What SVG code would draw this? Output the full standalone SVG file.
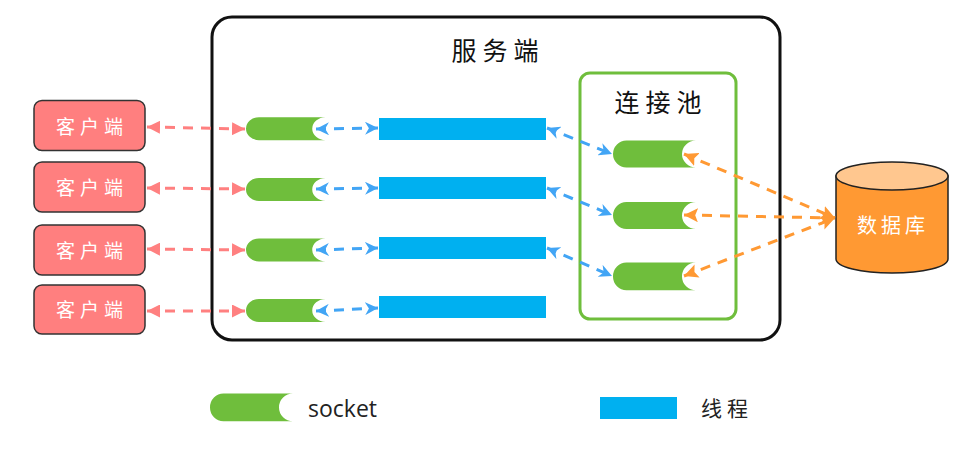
<svg xmlns="http://www.w3.org/2000/svg" width="971" height="471" viewBox="0 0 971 471">
<style>
text{font-family:"Noto Sans CJK SC","Noto Sans",sans-serif;text-anchor:middle}
.client{fill:#ff7f7f;stroke:#333;stroke-width:1.5}
.cl{font-size:19px;fill:#fff;letter-spacing:5px}
.sock{fill:#6fbe3c}
.thread{fill:#00b0f0}
.title{font-size:25px;fill:#111;letter-spacing:6px}
.red{stroke:#ff8080}.blue{stroke:#42a5f5}.orange{stroke:#ff9933}
.c{fill:none;stroke-width:3;stroke-dasharray:10 8}
</style>
<defs>
<marker id="r" viewBox="0 0 10 10" refX="10" refY="5" markerWidth="13" markerHeight="13" markerUnits="userSpaceOnUse" orient="auto-start-reverse"><path d="M0 0L10 5L0 10z" fill="#ff8080"/></marker>
<marker id="b" viewBox="0 0 10 10" refX="10" refY="5" markerWidth="13" markerHeight="13" markerUnits="userSpaceOnUse" orient="auto-start-reverse"><path d="M0 0L10 5L0 10L3 5z" fill="#42a5f5"/></marker>
<marker id="o" viewBox="0 0 10 10" refX="10" refY="5" markerWidth="14" markerHeight="14" markerUnits="userSpaceOnUse" orient="auto-start-reverse"><path d="M0 0L10 5L0 10L2 5z" fill="#ff9933"/></marker>
<path id="p" d="M13.500 0H83A14 13.500 0 0 0 83 27H13.500A13.500 13.500 0 0 1 13.500 0Z"/>
</defs>
<rect width="971" height="471" fill="#fff"/>
<g id="server"><rect x="212" y="17" width="568" height="323" rx="20" fill="#fff" stroke="#111" stroke-width="3"/><text class="title" x="498" y="60">服务端</text></g>
<g id="pool"><rect x="580" y="73" width="156" height="246" rx="10" fill="#fff" stroke="#6fbe3c" stroke-width="3"/><text class="title" x="661" y="112">连接池</text></g>
<g id="client1"><rect class="client" x="34" y="100.500" width="111" height="50" rx="8"/><text class="cl" x="92" y="134">客户端</text></g>
<g id="client2"><rect class="client" x="34" y="162" width="111" height="50" rx="8"/><text class="cl" x="92" y="195">客户端</text></g>
<g id="client3"><rect class="client" x="34" y="225" width="111" height="50" rx="8"/><text class="cl" x="92" y="258">客户端</text></g>
<g id="client4"><rect class="client" x="34" y="285" width="111" height="49" rx="8"/><text class="cl" x="92" y="317">客户端</text></g>
<g id="socket1"><use href="#p" class="sock" transform="translate(246 117.200) scale(.96 .85)"/></g>
<g id="socket2"><use href="#p" class="sock" transform="translate(246 178) scale(.96 .85)"/></g>
<g id="socket3"><use href="#p" class="sock" transform="translate(246 238.500) scale(.96 .85)"/></g>
<g id="socket4"><use href="#p" class="sock" transform="translate(246 299) scale(.96 .85)"/></g>
<g id="thread1"><rect class="thread" x="379" y="118" width="167" height="22"/></g>
<g id="thread2"><rect class="thread" x="379" y="177" width="167" height="22"/></g>
<g id="thread3"><rect class="thread" x="379" y="237" width="167" height="22"/></g>
<g id="thread4"><rect class="thread" x="379" y="296" width="167" height="22"/></g>
<g id="psocket1"><use href="#p" class="sock" transform="translate(613 140.500)"/></g>
<g id="psocket2"><use href="#p" class="sock" transform="translate(613 202)"/></g>
<g id="psocket3"><use href="#p" class="sock" transform="translate(613 262.500) scale(1 1.03)"/></g>
<g id="database"><path d="M836 176V259C836 267 861 273 892 273S948 267 948 259V176Z" fill="#ff9933" stroke="#222" stroke-width="1.500"/><ellipse cx="892" cy="176" rx="56" ry="14" fill="#ffc78f" stroke="#222" stroke-width="1.500"/><text x="893" y="233" font-size="20" fill="#fff" letter-spacing="4">数据库</text></g>
<g id="connectors">
<path class="c red" d="M147 127L245 129" marker-start="url(#r)" marker-end="url(#r)"/>
<path class="c red" d="M147 188L245 189" marker-start="url(#r)" marker-end="url(#r)"/>
<path class="c red" d="M147 249L245 250" marker-start="url(#r)" marker-end="url(#r)"/>
<path class="c red" d="M147 311L245 311" marker-start="url(#r)" marker-end="url(#r)"/>
<path class="c blue" d="M316 129L378 128" marker-start="url(#b)" marker-end="url(#b)"/>
<path class="c blue" d="M316 189L378 188" marker-start="url(#b)" marker-end="url(#b)"/>
<path class="c blue" d="M316 250L378 248" marker-start="url(#b)" marker-end="url(#b)"/>
<path class="c blue" d="M316 311L378 308" marker-start="url(#b)" marker-end="url(#b)"/>
<path class="c blue" d="M547 128L612 154" marker-start="url(#b)" marker-end="url(#b)"/>
<path class="c blue" d="M547 188L612 215" marker-start="url(#b)" marker-end="url(#b)"/>
<path class="c blue" d="M547 248L612 276" marker-start="url(#b)" marker-end="url(#b)"/>
<path class="c orange" d="M684 154L835 218" marker-start="url(#o)" marker-end="url(#o)"/>
<path class="c orange" d="M684 215L835 218" marker-start="url(#o)" marker-end="url(#o)"/>
<path class="c orange" d="M684 276L835 218" marker-start="url(#o)" marker-end="url(#o)"/>
</g>
<g id="legend-socket"><use href="#p" class="sock" transform="translate(210 393.500) scale(1 1.03)"/><text x="342.500" y="417" font-size="23" fill="#222" style="font-family:'Open Sans',sans-serif">socket</text></g>
<g id="legend-thread"><rect class="thread" x="600" y="397" width="77" height="22"/><text x="727" y="416" font-size="21" fill="#222" letter-spacing="5">线程</text></g>
</svg>
